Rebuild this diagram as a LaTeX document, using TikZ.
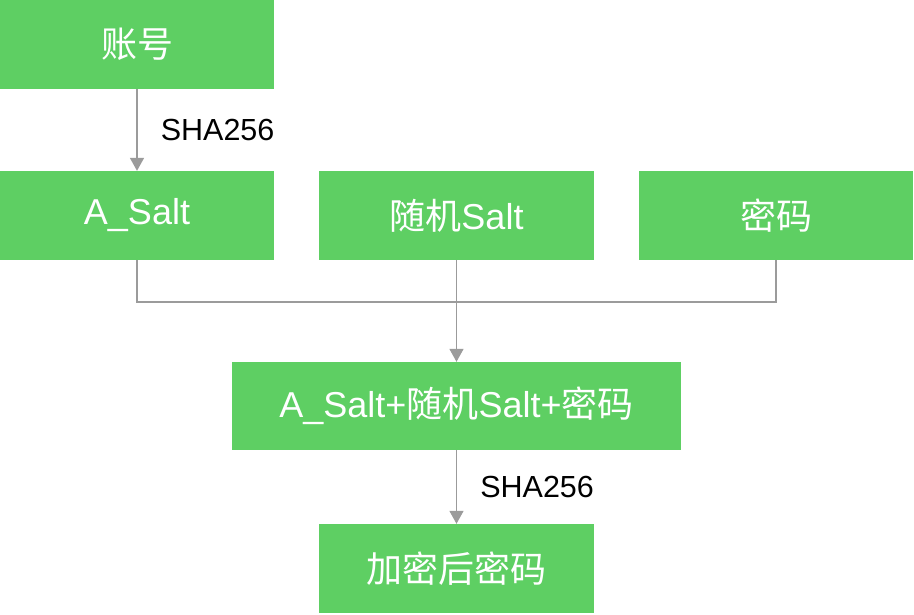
\documentclass[tikz,border=0pt]{standalone}
\usepackage{fontspec}
\setmainfont{Liberation Sans}
\newfontfamily\cjk{Noto Sans CJK SC}
\usetikzlibrary{arrows.meta}
\usetikzlibrary{positioning}

\definecolor{boxgreen}{HTML}{5ECF63}
\definecolor{linegray}{HTML}{9B9B9B}

\tikzset{
	stepbox/.style={fill=boxgreen, draw=none, text=white, inner sep=0pt,
		minimum height=89pt, font=\fontsize{36}{42}\selectfont},
	link/.style={draw=linegray, line width=1.6pt},
	arrowlink/.style={link, -{Triangle[width=14pt,length=13pt]}},
	hashlabel/.style={anchor=west, inner sep=0pt, font=\fontsize{30.5}{36}\selectfont}
}

\begin{document}
\begin{tikzpicture}[x=1pt,y=-1pt]
		\useasboundingbox (0,0) rectangle (914,615);

		\node[stepbox, minimum width=274pt] (acct) at (137,44.5) {\cjk 账号};
		\node[stepbox, minimum width=274pt] (asalt) at (137,215.5) {A\_Salt};
		\node[stepbox, minimum width=275pt] (rsalt) at (456.5,215.5) {{\cjk 随机}Salt};
		\node[stepbox, minimum width=274pt] (pwd) at (776,215.5) {\cjk 密码};
		\node[stepbox, minimum width=449pt, minimum height=88pt] (combo) at (456.5,406) {A\_Salt+{\cjk 随机}Salt+{\cjk 密码}};
		\node[stepbox, minimum width=275pt] (result) at (456.5,568.5) {\cjk 加密后密码};

		\coordinate (join) at (456.5,302);

		\draw[arrowlink] (acct) -- node[hashlabel, at start, xshift=23pt, yshift=-41pt] {SHA256} (asalt);
		\draw[link] (asalt.south) |- (join) -| (pwd.south);
		\draw[arrowlink] (rsalt) -- (combo);
		\draw[arrowlink] (combo) -- node[hashlabel, at start, xshift=23pt, yshift=-37pt] {SHA256} (result);
	\end{tikzpicture}
\end{document}
